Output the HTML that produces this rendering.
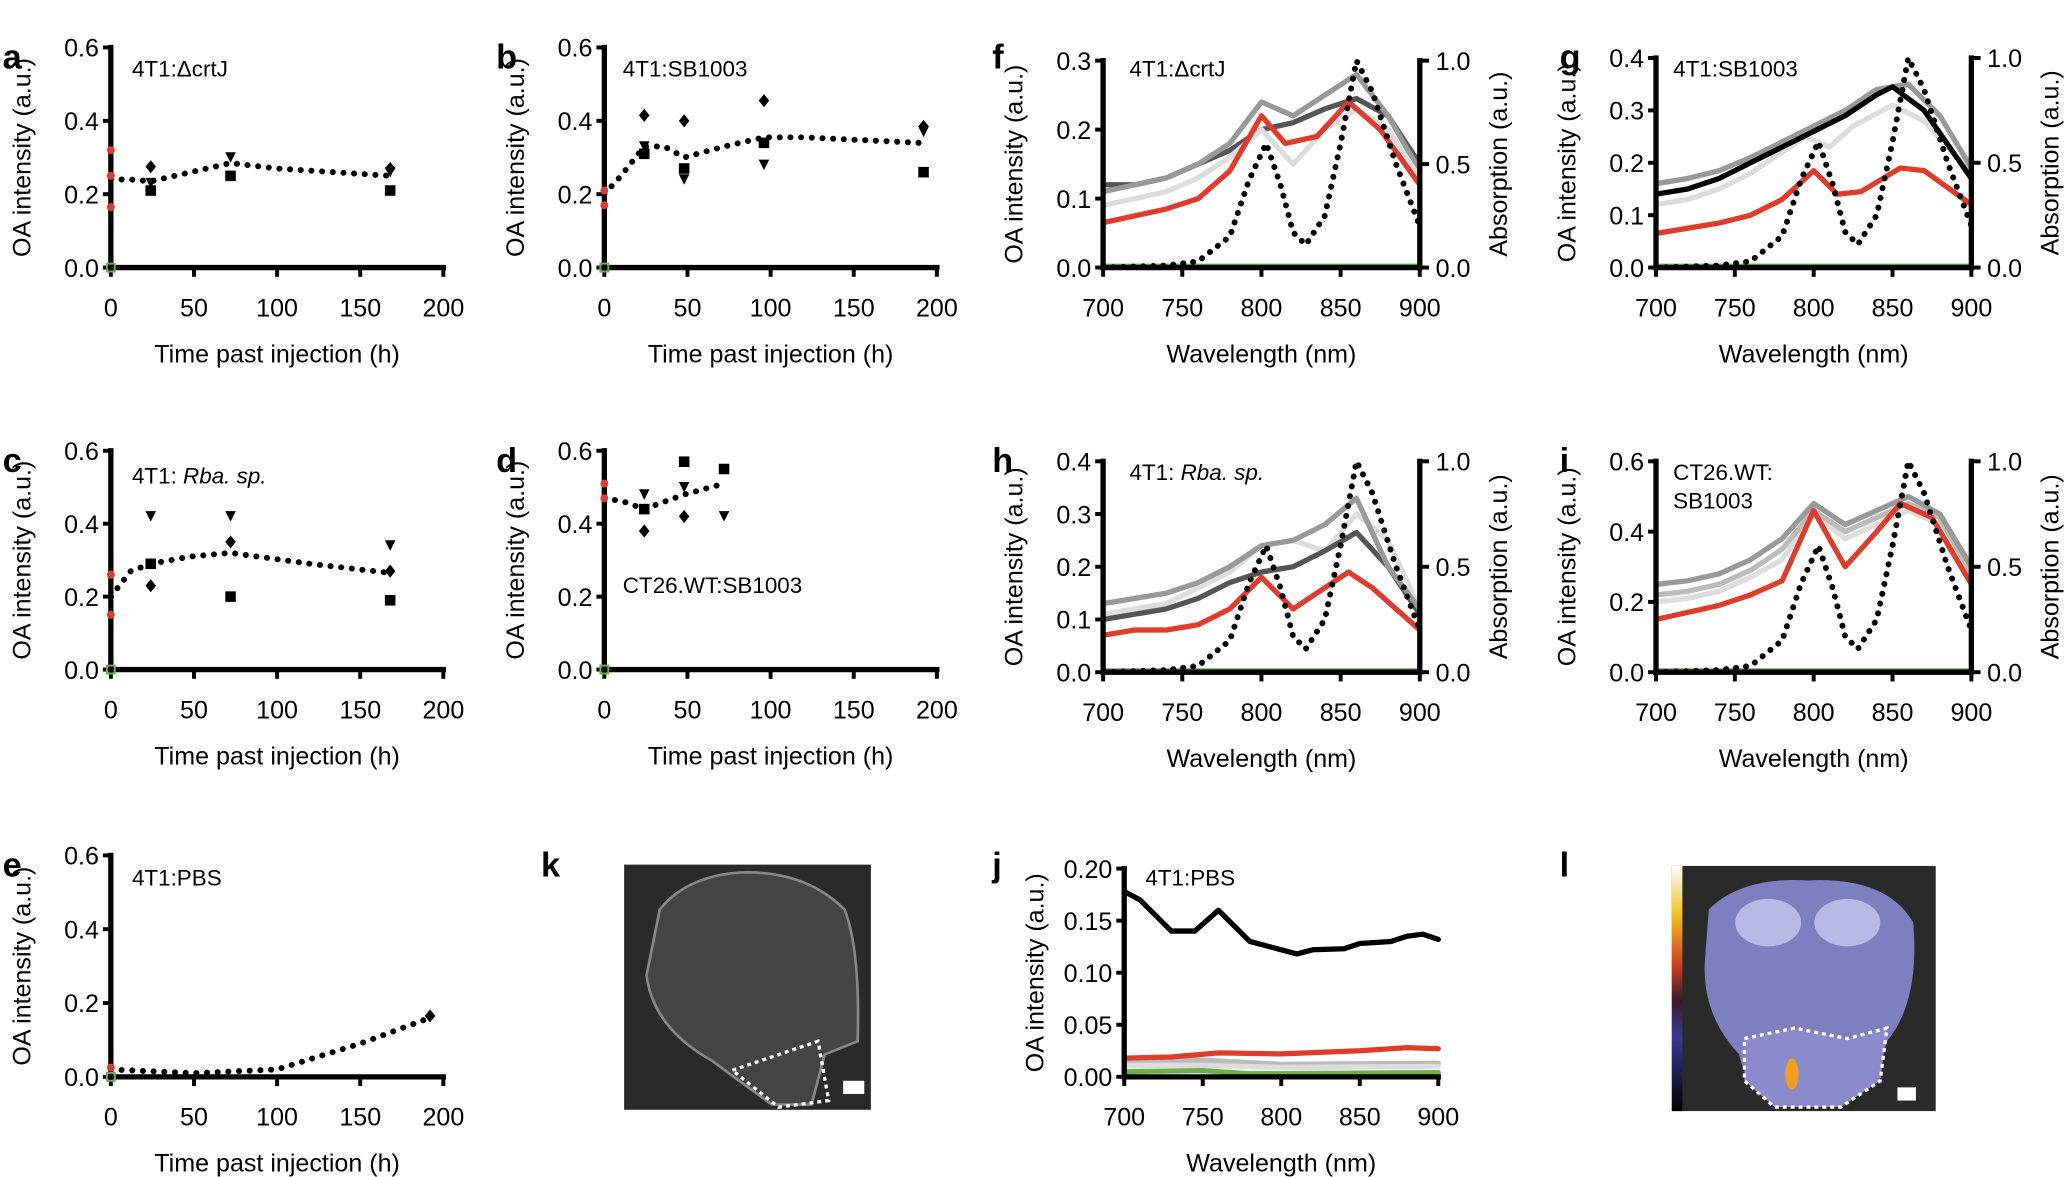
<!DOCTYPE html>
<html><head><meta charset="utf-8"><style>
html,body{margin:0;padding:0;background:#fff}
svg{display:block}
text{font-family:"Liberation Sans",sans-serif;fill:#000}
</style></head><body>
<svg id="s" width="2069" height="1177" viewBox="0 0 1568 893" preserveAspectRatio="none" xmlns="http://www.w3.org/2000/svg"></svg>
<script>
const S=document.getElementById('s');let h='';
function T(x,y,t,o={}){h+=`<text x="${x}" y="${y}" font-size="${o.fs||19}" text-anchor="${o.a||'start'}" ${o.b?'font-weight="bold"':''} ${o.i?'font-style="italic"':''} ${o.r?`transform="rotate(-90 ${x} ${y})"`:''}>${t}</text>`;}
function L(pts,c,w,d){h+=`<polyline points="${pts.map(p=>p.join(',')).join(' ')}" fill="none" stroke="${c}" stroke-width="${w}" stroke-linejoin="round" stroke-linecap="round" ${d?`stroke-dasharray="${d}"`:''}/>`;}
function axesL(x0,x1,y0,y1,yt,ylab,xt,xlab){
 h+=`<line x1="${x0}" y1="${y1-2}" x2="${x0}" y2="${y0+2}" stroke="#000" stroke-width="4"/>`;
 h+=`<line x1="${x0-2}" y1="${y0}" x2="${x1+2}" y2="${y0}" stroke="#000" stroke-width="4"/>`;
 yt.forEach((t,i)=>{let y=y0-(y0-y1)*i/(yt.length-1);h+=`<line x1="${x0-6}" y1="${y}" x2="${x0}" y2="${y}" stroke="#000" stroke-width="3"/>`;T(x0-9,y+7,t,{a:'end',fs:19});});
 xt.forEach((t,i)=>{let x=x0+(x1-x0)*i/(xt.length-1);h+=`<line x1="${x}" y1="${y0}" x2="${x}" y2="${y0+7}" stroke="#000" stroke-width="3"/>`;T(x,y0+37,t,{a:'middle',fs:19});});
 T((x0+x1)/2,y0+72,xlab,{a:'middle',fs:19});
 T(x0-61,(y0+y1)/2,ylab,{a:'middle',fs:19,r:1});
}
function axesR(x1,y0,y1,yt,lab){
 h+=`<line x1="${x1}" y1="${y1-2}" x2="${x1}" y2="${y0+2}" stroke="#000" stroke-width="4"/>`;
 yt.forEach((t,i)=>{let y=y0-(y0-y1)*i/(yt.length-1);h+=`<line x1="${x1}" y1="${y}" x2="${x1+7}" y2="${y}" stroke="#000" stroke-width="3"/>`;T(x1+12,y+7,t,{fs:19});});
 T(x1+66,(y0+y1)/2,lab,{a:'middle',fs:19,r:1});
}
function scat(x0,y0,y1,line,marks,reds){
 const X=v=>x0+v*(252/200),Y=v=>y0-(y0-y1)*v/0.6;
 axesL(x0,x0+252,y0,y1,['0.0','0.2','0.4','0.6'],'OA intensity (a.u.)',['0','50','100','150','200'],'Time past injection (h)');
 L(line.map(p=>[X(p[0]),Y(p[1])]),'#000',4.5,'0.1 8');
 marks.forEach(m=>{let x=X(m[0]),y=Y(m[1]);
  if(m[2]=='s')h+=`<rect x="${x-4}" y="${y-4}" width="8" height="8"/>`;
  else if(m[2]=='d')h+=`<polygon points="${x},${y-5} ${x+4},${y} ${x},${y+5} ${x-4},${y}"/>`;
  else h+=`<polygon points="${x-4},${y-4} ${x+4},${y-4} ${x},${y+4}"/>`;});
 reds.forEach(v=>h+=`<circle cx="${x0}" cy="${Y(v)}" r="3" fill="#e03c2c"/>`);
 h+=`<rect x="${x0-3}" y="${y0-3}" width="6" height="6" fill="none" stroke="#6ab04c" stroke-width="1.5"/>`;
}
T(2,52,'a',{b:1,fs:26});T(376,52,'b',{b:1,fs:26});T(2,358,'c',{b:1,fs:26});T(376,358,'d',{b:1,fs:26});T(2,665,'e',{b:1,fs:26});
T(752,52,'f',{b:1,fs:26});T(1182,52,'g',{b:1,fs:26});T(752,358,'h',{b:1,fs:26});T(1182,358,'i',{b:1,fs:26});
T(410,665,'k',{b:1,fs:26});T(752,665,'j',{b:1,fs:26});T(1182,665,'l',{b:1,fs:26});
scat(84,203,36,[[0,0.24],[12,0.24],[24,0.235],[48,0.26],[72,0.285],[100,0.27],[168,0.25]],[[24,0.275,'d'],[24,0.21,'s'],[24,0.23,'t'],[72,0.30,'t'],[72,0.25,'s'],[168,0.27,'d'],[168,0.21,'s'],[168,0.26,'t']],[0.32,0.25,0.165]);
T(100,58,'4T1:ΔcrtJ',{fs:17});
scat(458,203,36,[[0,0.2],[10,0.25],[24,0.33],[36,0.33],[48,0.30],[72,0.33],[96,0.355],[120,0.355],[190,0.34]],[[24,0.415,'d'],[24,0.31,'s'],[24,0.33,'t'],[48,0.40,'d'],[48,0.27,'s'],[48,0.24,'t'],[96,0.455,'d'],[96,0.34,'s'],[96,0.28,'t'],[192,0.385,'d'],[192,0.26,'s'],[192,0.37,'t']],[0.21,0.17]);
T(472,58,'4T1:SB1003',{fs:17});
scat(84,508,342,[[0,0.2],[12,0.27],[24,0.29],[48,0.31],[72,0.32],[120,0.29],[168,0.265]],[[24,0.42,'t'],[24,0.29,'s'],[24,0.23,'d'],[72,0.42,'t'],[72,0.35,'d'],[72,0.2,'s'],[168,0.34,'t'],[168,0.19,'s'],[168,0.27,'d']],[0.26,0.15]);
h+=`<text x="100" y="367" font-size="17">4T1: <tspan font-style="italic">Rba. sp.</tspan></text>`;
scat(458,508,342,[[0,0.47],[12,0.46],[24,0.44],[36,0.46],[48,0.48],[72,0.51]],[[24,0.48,'t'],[24,0.44,'s'],[24,0.38,'d'],[48,0.57,'s'],[48,0.50,'t'],[48,0.42,'d'],[72,0.55,'s'],[72,0.42,'t']],[0.51,0.47]);
T(472,450,'CT26.WT:SB1003',{fs:17});
scat(84,817,649,[[0,0.02],[50,0.01],[100,0.02],[150,0.09],[192,0.16]],[[192,0.165,'d']],[0.025]);
T(100,672,'4T1:PBS',{fs:17});
const WL=[700,720,740,760,780,800,820,840,860,880,900];
const ABS=[[700,0],[740,0.01],[760,0.03],[780,0.15],[792,0.42],[803,0.6],[812,0.4],[820,0.17],[828,0.11],[840,0.25],[850,0.6],[860,1.0],[870,0.85],[885,0.5],[900,0.2]];
function spec(x0,x1,y0,y1,ymax,yt,series){
 const X=w=>x0+(w-700)*(x1-x0)/200,Y=v=>y0-(y0-y1)*v/ymax,Ya=v=>y0-(y0-y1)*v;
 series.forEach(s=>L(s[1].map(p=>[X(p[0]),Y(p[1])]),s[0],4));
 L([[X(700),y0-1],[X(900),y0-1]],'#6ab04c',4);
 L(ABS.map(p=>[X(p[0]),Ya(p[1])]),'#000',4.5,'0.1 7.5');
 axesL(x0,x1,y0,y1,yt,'OA intensity (a.u.)',['700','750','800','850','900'],'Wavelength (nm)');
 axesR(x1,y0,y1,['0.0','0.5','1.0'],'Absorption (a.u.)');
}
const z=(a)=>a.map((v,i)=>Array.isArray(v)?v:[WL[i],v]);
spec(836,1076,203,46,0.3,['0.0','0.1','0.2','0.3'],[
 ['#555',z([.12,.12,.13,.15,.17,.20,.21,.23,.245,.22,.15])],
 ['#999',z([.11,.12,.13,.15,.18,.24,.22,.25,.28,.22,.14])],
 ['#ddd',z([.09,.10,.11,.13,.16,.20,.15,.20,.23,.20,.13])],
 ['#e03c2c',z([.065,.075,.085,.10,.14,.22,[815,.18],[835,.19],[855,.24],[875,.20],[900,.12]])]]);
T(856,58,'4T1:ΔcrtJ',{fs:17});
spec(1255,1494,203,44,0.4,['0.0','0.1','0.2','0.3','0.4'],[
 ['#ddd',z([.12,.13,.15,.18,.22,[795,.25],[810,.23],[825,.27],[850,.31],[870,.28],[900,.18]])],
 ['#999',z([.16,.17,.185,.21,.24,.27,.30,.34,.35,.29,.19])],
 ['#000',z([.14,.15,.17,.20,.23,.26,.29,.33,[850,.345],[870,.30],[900,.17]])],
 ['#e03c2c',z([.065,.075,.085,.10,.13,.185,[815,.14],[830,.145],[855,.19],[870,.185],[900,.12]])]]);
T(1268,58,'4T1:SB1003',{fs:17});
spec(836,1076,510,350,0.4,['0.0','0.1','0.2','0.3','0.4'],[
 ['#ddd',z([.11,.12,.13,.16,.19,.24,.25,.23,.30,.25,.12])],
 ['#555',z([.10,.11,.12,.14,.17,.19,.20,.23,.265,.20,.11])],
 ['#999',z([.13,.14,.15,.17,.20,.24,.25,.28,.33,.20,.12])],
 ['#e03c2c',z([.07,.08,.08,.09,.12,.18,[820,.12],[840,.16],[855,.19],[870,.16],[900,.08]])]]);
h+=`<text x="856" y="364" font-size="17">4T1: <tspan font-style="italic">Rba. sp.</tspan></text>`;
spec(1255,1494,510,350,0.6,['0.0','0.2','0.4','0.6'],[
 ['#ddd',z([.20,.21,.23,.27,.32,.45,.38,.42,.46,.42,.27])],
 ['#bbb',z([.22,.23,.25,.29,.35,.46,.40,.44,.48,.44,.28])],
 ['#999',z([.25,.26,.28,.32,.38,.48,.42,.46,.50,.45,.30])],
 ['#e03c2c',z([.15,.17,.19,.22,.26,.46,[820,.30],[840,.40],[855,.48],[875,.44],[900,.25]])]]);
T(1268,364,'CT26.WT:',{fs:17});T(1268,386,'SB1003',{fs:17});
(function(){const x0=852,x1=1090,y0=817,y1=659;const X=w=>x0+(w-700)*(x1-x0)/200,Y=v=>y0-(y0-y1)*v/0.2;
 const bl=[[700,.178],[710,.17],[720,.155],[730,.14],[745,.14],[760,.16],[770,.145],[780,.13],[800,.122],[810,.118],[820,.122],[840,.123],[850,.128],[870,.13],[880,.135],[890,.137],[900,.132]];
 L([[700,.015],[750,.016],[800,.012],[900,.013]].map(p=>[X(p[0]),Y(p[1])]),'#bbb',4);
 L([[700,.011],[750,.011],[800,.009],[900,.010]].map(p=>[X(p[0]),Y(p[1])]),'#ddd',4);
 L([[700,.005],[750,.006],[780,.003],[900,.004]].map(p=>[X(p[0]),Y(p[1])]),'#6ab04c',4);
 L([[700,.018],[730,.019],[760,.023],[800,.022],[850,.025],[880,.028],[900,.027]].map(p=>[X(p[0]),Y(p[1])]),'#e03c2c',4);
 L(bl.map(p=>[X(p[0]),Y(p[1])]),'#000',4);
 axesL(x0,x1,y0,y1,['0.00','0.05','0.10','0.15','0.20'],'OA intensity (a.u.)',['700','750','800','850','900'],'Wavelength (nm)');
 T(868,672,'4T1:PBS',{fs:17});
})();
h+=`<rect x="473" y="656" width="187" height="186" fill="#2a2a2a"/>`;
h+=`<path d="M500,690 Q520,665 560,662 Q610,660 640,690 Q652,720 650,790 L625,800 L615,838 L585,838 Q560,820 540,805 Q495,780 490,740 Z" fill="#444" stroke="#888" stroke-width="2"/>`;
h+=`<path d="M555,812 L620,790 L628,835 L590,840 Z" fill="none" stroke="#fff" stroke-width="2.5" stroke-dasharray="3 3"/>`;
h+=`<rect x="639" y="820" width="16" height="10" fill="#fff"/>`;
h+=`<defs><linearGradient id="cb" x1="0" y1="1" x2="0" y2="0"><stop offset="0" stop-color="#000"/><stop offset="0.3" stop-color="#3a3a9a"/><stop offset="0.45" stop-color="#3a1a2a"/><stop offset="0.6" stop-color="#d04020"/><stop offset="0.8" stop-color="#f0c020"/><stop offset="1" stop-color="#fff"/></linearGradient></defs>`;
h+=`<rect x="1267" y="657" width="200" height="186" fill="#2a2a2a"/><rect x="1267" y="657" width="8" height="186" fill="url(#cb)"/>`;
h+=`<path d="M1295,690 Q1320,665 1370,668 Q1430,665 1450,700 Q1455,760 1430,790 Q1420,830 1370,840 Q1325,835 1318,800 Q1290,770 1292,730 Z" fill="#7d7fc0"/>`;
h+=`<ellipse cx="1340" cy="700" rx="25" ry="18" fill="#b8bae6"/><ellipse cx="1400" cy="700" rx="25" ry="18" fill="#b8bae6"/>`;
h+=`<path d="M1322,788 L1360,780 L1400,788 L1430,780 L1425,820 L1395,840 L1345,840 L1322,820 Z" fill="#8a8acc" stroke="#fff" stroke-width="2.5" stroke-dasharray="3 3"/>`;
h+=`<ellipse cx="1358" cy="815" rx="5" ry="12" fill="#f0a020"/><rect x="1438" y="825" width="14" height="10" fill="#fff"/>`;
S.innerHTML=h;
</script>
</body></html>
